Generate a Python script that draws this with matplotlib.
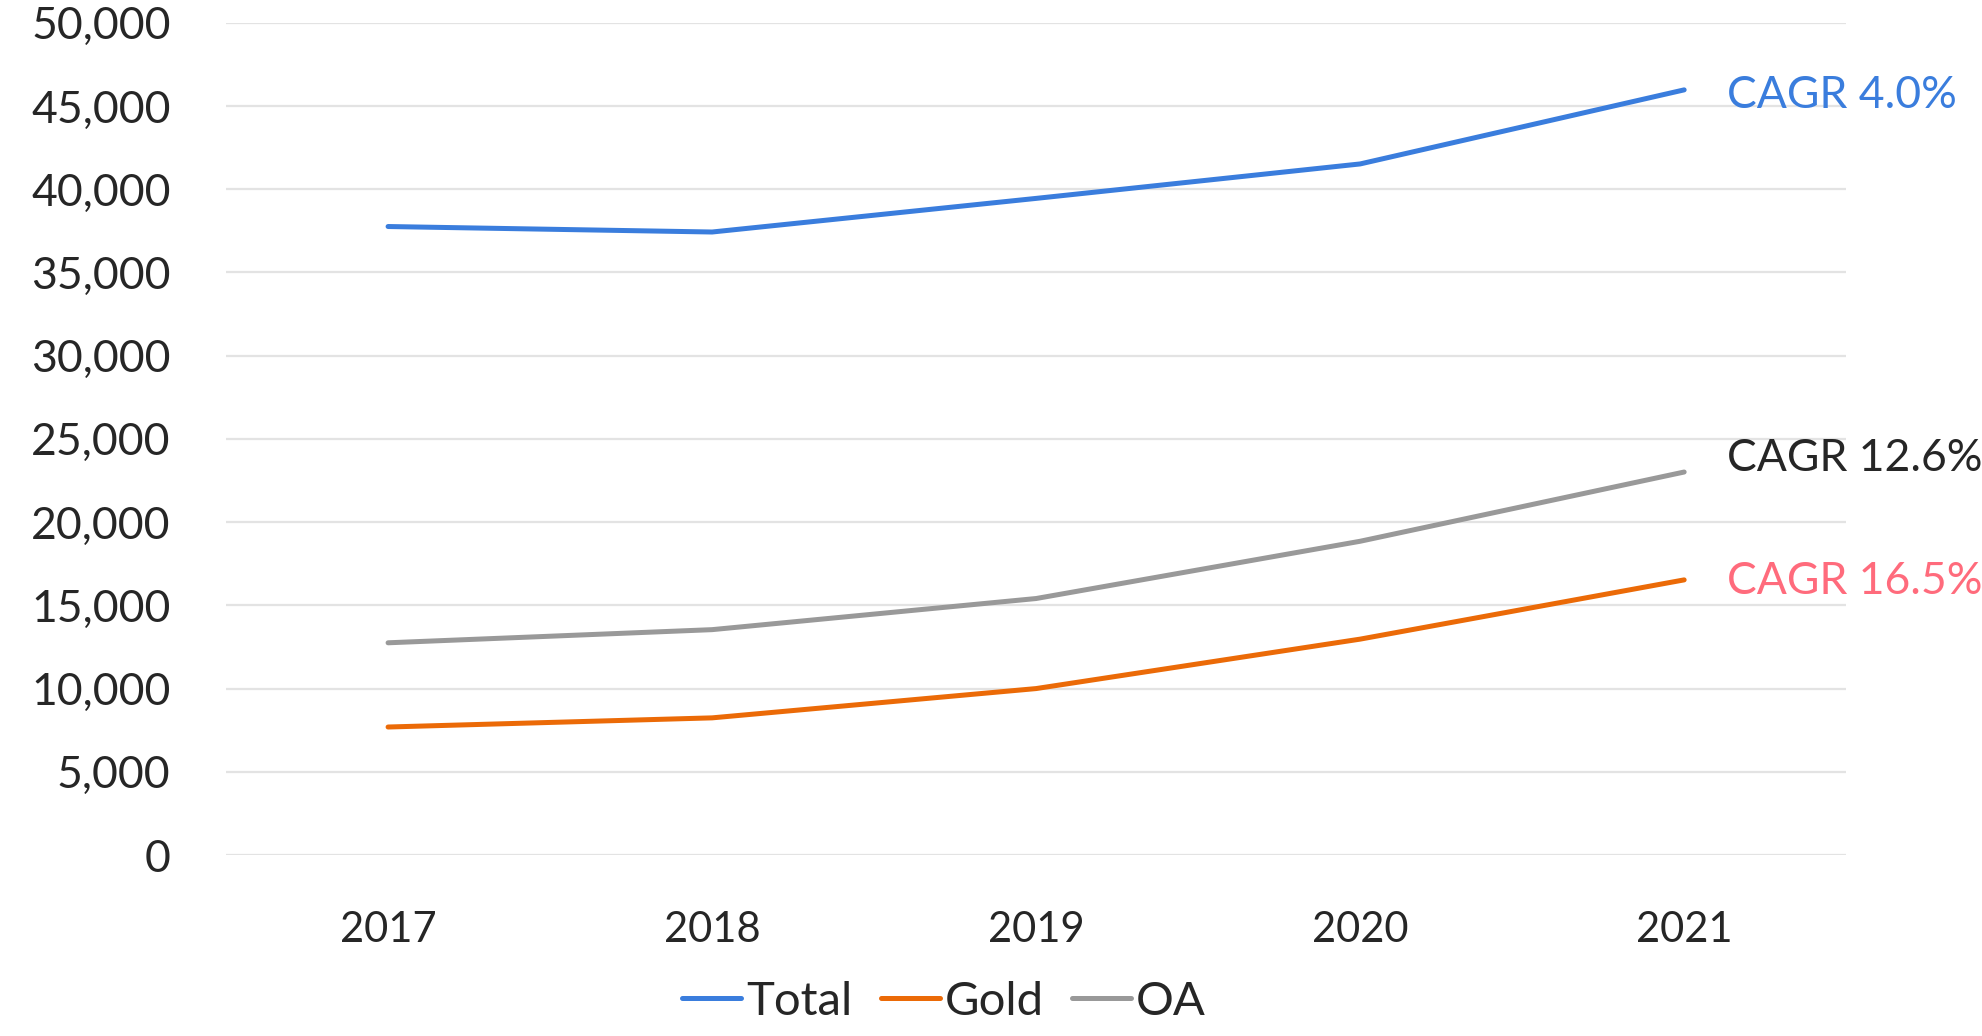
import matplotlib.pyplot as plt
from matplotlib.ticker import FuncFormatter

years = ["2017", "2018", "2019", "2020", "2021"]
total = [37760, 37430, 39450, 41520, 45970]
gold = [7690, 8240, 10000, 12970, 16530]
oa = [12750, 13540, 15410, 18850, 23010]

series_names = ["Total", "Gold", "OA"]
cagr_labels = ["CAGR 4.0%", "CAGR 16.5%", "CAGR 12.6%"]

blue = "#3A7DDD"
orange = "#EB6A07"
grey = "#999999"
pink = "#FF6B7C"
text_col = "#262626"

plt.rcParams["font.family"] = ["Lato", "DejaVu Sans"]

fig = plt.figure(figsize=(19.83, 10.36), dpi=100)
ax = fig.add_axes([0.114, 0.1747, 0.817, 0.8033])

x = range(len(years))
ax.plot(x, total, color=blue, lw=3.6, solid_capstyle="round", label=series_names[0])
ax.plot(x, gold, color=orange, lw=3.6, solid_capstyle="round", label=series_names[1])
ax.plot(x, oa, color=grey, lw=3.6, solid_capstyle="round", label=series_names[2])

ax.set_xlim(-0.5, len(years) - 0.5)
ax.set_ylim(0, 50000)
ax.set_yticks(range(0, 50001, 5000))
ax.yaxis.set_major_formatter(FuncFormatter(lambda v, p: f"{int(v):,}"))
ax.set_xticks(list(x))
ax.set_xticklabels(years)

ax.grid(axis="y", color="#E3E3E3", lw=1.6)
ax.set_axisbelow(True)
for s in ax.spines.values():
    s.set_visible(False)
ax.tick_params(length=0, labelsize=30, colors=text_col)
ax.tick_params(axis="y", pad=40, labelsize=32)
ax.tick_params(axis="x", pad=40)

# CAGR annotations next to the last point
ax.annotate(cagr_labels[0], (x[-1], total[-1]), xytext=(31, -4), textcoords="offset points",
            color=blue, fontsize=32, va="center")
ax.annotate(cagr_labels[2], (x[-1], oa[-1]), xytext=(31, 10), textcoords="offset points",
            color=text_col, fontsize=32, va="center")
ax.annotate(cagr_labels[1], (x[-1], gold[-1]), xytext=(31, -1), textcoords="offset points",
            color=pink, fontsize=32, va="center")

leg = fig.legend(loc="lower center", bbox_to_anchor=(0.476, -0.028), ncol=3, frameon=False,
                 fontsize=34, handlelength=1.25, handletextpad=0.1, columnspacing=0.6)
for t in leg.get_texts():
    t.set_color(text_col)

fig.savefig("out.png", dpi=100)
